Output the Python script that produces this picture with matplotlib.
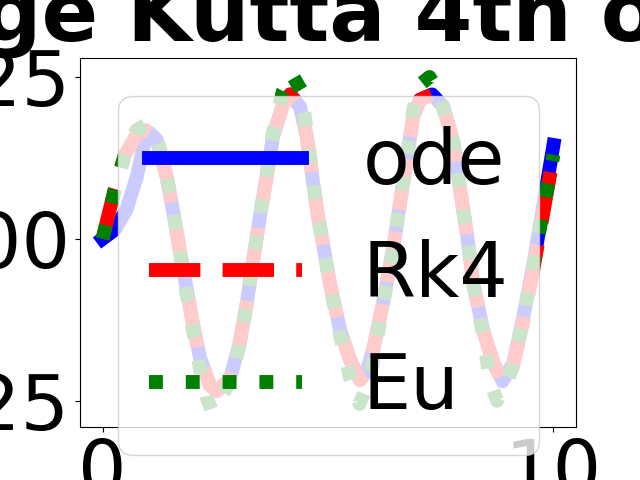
import matplotlib
matplotlib.use("Agg")
import matplotlib.pyplot as plt

# ode solution
ode_x = [0, 0.27, 0.53, 0.76, 0.93, 1.04, 1.2, 1.42, 1.56, 1.71, 1.87, 2.0, 2.16, 2.38, 2.53,
         2.82, 3.04, 3.2, 3.33, 3.49, 3.64, 3.78, 4.0, 4.16, 4.38, 4.53, 4.67, 4.78, 4.87, 5.04,
         5.27, 5.49, 5.71, 5.85, 6.0, 6.22, 6.44, 6.6, 6.76, 6.89, 7.04, 7.31, 7.56, 7.78, 7.93,
         8.09, 8.22, 8.44, 8.67, 8.87, 9.11, 9.33, 9.56, 9.71, 10]
ode_y = [0, 0.014, 0.045, 0.096, 0.149, 0.164, 0.153, 0.096, 0.045, -0.017, -0.079, -0.13, -0.183, -0.226, -0.235,
         -0.218, -0.161, -0.099, -0.037, 0.034, 0.096, 0.158, 0.207, 0.223, 0.204, 0.158, 0.087, 0.034, 0.0, -0.068,
         -0.141, -0.187, -0.218, -0.206, -0.172, -0.099, -0.017, 0.056, 0.127, 0.189, 0.215, 0.223, 0.204, 0.149, 0.076,
         0.003, -0.068, -0.141, -0.192, -0.22, -0.192, -0.121, -0.037, 0.025, 0.145]

# Runge Kutta 4
rk_x = [0, 0.27, 0.5, 0.75, 0.95, 1.1, 1.25, 1.42, 1.56, 1.71, 1.87, 2.0, 2.16, 2.38, 2.53,
        2.82, 3.04, 3.2, 3.33, 3.49, 3.64, 3.78, 4.0, 4.16, 4.38, 4.53, 4.67, 4.78, 4.87, 5.04,
        5.27, 5.49, 5.71, 5.85, 6.0, 6.22, 6.44, 6.6, 6.76, 6.89, 7.04, 7.31, 7.56, 7.78, 7.93,
        8.09, 8.22, 8.44, 8.67, 8.87, 9.11, 9.33, 9.56, 9.71, 10]
rk_y = [0, 0.076, 0.13, 0.16, 0.168, 0.16, 0.14, 0.096, 0.045, -0.017, -0.079, -0.13, -0.183, -0.226, -0.235,
        -0.218, -0.161, -0.099, -0.037, 0.034, 0.096, 0.158, 0.207, 0.223, 0.204, 0.158, 0.087, 0.034, 0.0, -0.068,
        -0.141, -0.187, -0.218, -0.206, -0.172, -0.099, -0.017, 0.056, 0.127, 0.189, 0.215, 0.223, 0.204, 0.149, 0.076,
        0.003, -0.068, -0.141, -0.192, -0.22, -0.195, -0.128, -0.045, 0.015, 0.128]

# Euler
eu_x = [0, 0.27, 0.5, 0.75, 0.95, 1.1, 1.25, 1.42, 1.56, 1.71, 1.87, 2.0, 2.16, 2.3, 2.42,
        2.58, 2.82, 3.04, 3.2, 3.33, 3.49, 3.64, 3.78, 4.0, 4.2, 4.4, 4.53, 4.67, 4.78, 4.87,
        5.04, 5.27, 5.49, 5.7, 5.9, 6.0, 6.22, 6.44, 6.6, 6.76, 6.89, 7.04, 7.25, 7.45, 7.6,
        7.78, 7.93, 8.09, 8.22, 8.44, 8.6, 8.75, 8.95, 9.11, 9.33, 9.56, 9.71, 10]
eu_y = [0, 0.076, 0.132, 0.168, 0.176, 0.166, 0.145, 0.098, 0.045, -0.02, -0.088, -0.14, -0.2, -0.243, -0.265,
        -0.25, -0.222, -0.165, -0.102, -0.038, 0.036, 0.1, 0.165, 0.228, 0.254, 0.23, 0.168, 0.09, 0.034, 0.0,
        -0.07, -0.15, -0.215, -0.255, -0.22, -0.19, -0.102, -0.017, 0.058, 0.132, 0.2, 0.238, 0.25, 0.228, 0.19,
        0.15, 0.077, 0.003, -0.07, -0.15, -0.222, -0.25, -0.225, -0.195, -0.122, -0.037, 0.02, 0.13]

plt.rcParams['xtick.labelsize'] = 55
plt.rcParams['ytick.labelsize'] = 55
plt.rcParams['legend.fontsize'] = 55

plt.figure(figsize=(6.4, 4.8), dpi=100)
plt.plot(ode_x, ode_y, 'b-', linewidth=10, label='ode')
plt.plot(rk_x, rk_y, 'r--', linewidth=10, label='Rk4')
plt.plot(eu_x, eu_y, 'g:', linewidth=10, label='Eu')
plt.title('Runge Kutta 4th order', fontsize=60, fontweight='bold')
plt.legend(loc='upper left')
plt.savefig('out.png')
